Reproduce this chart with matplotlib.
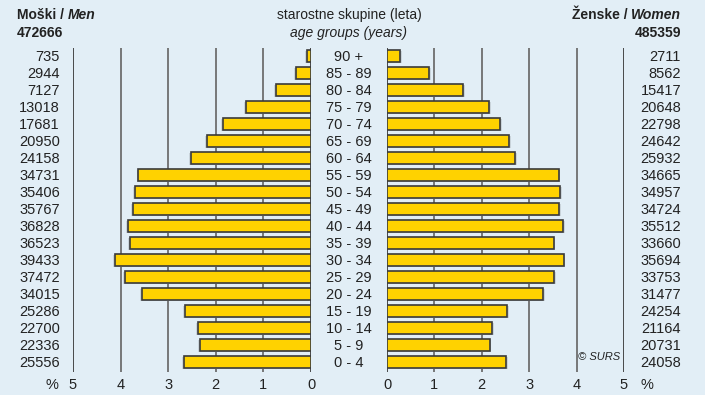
import matplotlib
matplotlib.use("Agg")
import matplotlib.pyplot as plt
from matplotlib import font_manager

age_groups = ["90 +", "85 - 89", "80 - 84", "75 - 79", "70 - 74", "65 - 69", "60 - 64",
              "55 - 59", "50 - 54", "45 - 49", "40 - 44", "35 - 39", "30 - 34", "25 - 29",
              "20 - 24", "15 - 19", "10 - 14", "5 - 9", "0 - 4"]
men = [735, 2944, 7127, 13018, 17681, 20950, 24158, 34731, 35406, 35767, 36828, 36523,
       39433, 37472, 34015, 25286, 22700, 22336, 25556]
women = [2711, 8562, 15417, 20648, 22798, 24642, 25932, 34665, 34957, 34724, 35512, 33660,
         35694, 33753, 31477, 24254, 21164, 20731, 24058]
men_total = 472666
women_total = 485359
pct_ticks = [0, 1, 2, 3, 4, 5]

total = men_total + women_total
men_pct = [v / total * 100 for v in men]
women_pct = [v / total * 100 for v in women]

names = {f.name for f in font_manager.fontManager.ttflist}
NARROW = "Liberation Sans Narrow" if "Liberation Sans Narrow" in names else "Liberation Sans"
REG = "Liberation Sans"
HEAD_FS = 11 if NARROW == "Liberation Sans Narrow" else 10

BG = "#e2eef6"
BAR = "#ffd200"
EDGE = "#3a3a3a"
TXT = "#222222"

W, H = 705, 395
fig = plt.figure(figsize=(W / 100, H / 100), dpi=100, facecolor=BG)


def rect(x0, x1, y0, y1):
    return [x0 / W, 1 - y1 / H, (x1 - x0) / W, (y1 - y0) / H]


n = len(age_groups)
ypos = list(range(n))
# pixel geometry: first row centre 57, last 363
y_top, y_bot = 48, 372
row0, rowN = 57, 363
step = (rowN - row0) / (n - 1)
ylim_top = -(row0 - y_top) / step
ylim_bot = (n - 1) + (y_bot - rowN) / step

axL = fig.add_axes(rect(73, 311, y_top, y_bot))
axR = fig.add_axes(rect(387, 624, y_top, y_bot))

for ax, vals, side in ((axL, men_pct, "L"), (axR, women_pct, "R")):
    ax.set_facecolor("none")
    for t in pct_ticks[1:]:
        c = "#3c3c3c" if t == 5 else "#6e6e6e"
        ax.axvline(t, color=c, lw=1.3, zorder=1)
    ax.axvline(0, color="#3c3c3c", lw=1.3, zorder=1)
    # soft shadow under each bar
    ax.barh(ypos, vals, height=0.68, left=0.04, color="#c9d3da", edgecolor="none", zorder=2)
    ax.barh([y - 0.06 for y in ypos], vals, height=0.68, color=BAR, edgecolor=EDGE,
            linewidth=1.2, zorder=3)
    ax.set_ylim(ylim_bot, ylim_top)
    if side == "L":
        ax.set_xlim(5, 0)
    else:
        ax.set_xlim(0, 5)
    ax.set_xticks([])
    ax.set_yticks([])
    for s in ax.spines.values():
        s.set_visible(False)


def ftxt(x, y, s, **kw):
    return fig.text(x / W, 1 - y / H, s, **kw)


for i in range(n):
    yc = row0 + i * step
    ftxt(60, yc, f"{men[i]}", ha="right", va="center", fontsize=10.5, family=REG, color=TXT)
    ftxt(681, yc, f"{women[i]}", ha="right", va="center", fontsize=10.5, family=REG, color=TXT)
    ftxt(349, yc, age_groups[i], ha="center", va="center", fontsize=10.5, family=REG, color=TXT)

# percentage scales along the bottom
for t in pct_ticks:
    ftxt(311 - t * 47.6, 385, str(t), ha="center", va="center", fontsize=10.5, family=REG, color=TXT)
    ftxt(387 + t * 47.4, 385, str(t), ha="center", va="center", fontsize=10.5, family=REG, color=TXT)
ftxt(52, 385, "%", ha="center", va="center", fontsize=10.5, family=REG, color=TXT)
ftxt(647, 385, "%", ha="center", va="center", fontsize=10.5, family=REG, color=TXT)

# headers
hdr = dict(va="center", fontsize=HEAD_FS, family=NARROW, weight="bold", color=TXT)
t1 = ftxt(17, 15, "Moški / ", ha="left", **hdr)
fig.canvas.draw()
bb = t1.get_window_extent()
fig.text(bb.x1 / W, 1 - 15 / H, "Men", ha="left", style="italic", **hdr)
ftxt(17, 33, f"{men_total}", ha="left", **hdr)

t2 = ftxt(681, 15, "Women", ha="right", style="italic", **hdr)
fig.canvas.draw()
bb2 = t2.get_window_extent()
fig.text(bb2.x0 / W, 1 - 15 / H, "Ženske / ", ha="right", **hdr)
ftxt(681, 33, f"{women_total}", ha="right", **hdr)

ftxt(349, 15, "starostne skupine (leta)", ha="center", va="center", fontsize=HEAD_FS,
     family=NARROW, color=TXT)
ftxt(349, 33, "age groups (years)", ha="center", va="center", fontsize=HEAD_FS, family=NARROW,
     style="italic", color=TXT)

ftxt(599, 357, "© SURS", ha="center", va="center", fontsize=8, family=REG, style="italic", color=TXT)

fig.savefig("out.png", dpi=100, facecolor=BG)
